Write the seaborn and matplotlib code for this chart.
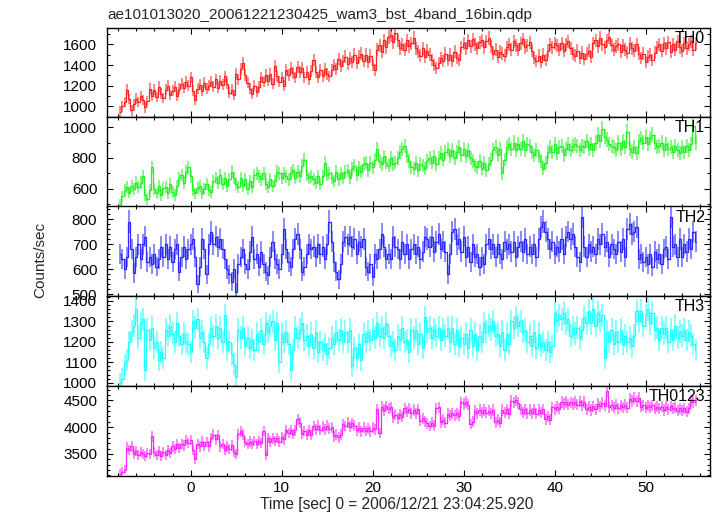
import numpy as np
import pandas as pd
import matplotlib
matplotlib.use("Agg")
import matplotlib.pyplot as plt
import seaborn as sns
from matplotlib.ticker import MultipleLocator

# ---------------- data (0.25 s bins) ----------------
time_start = -7.75
time_step = 0.25

th0 = [
    950, 1000, 1040, 1160, 1070, 960, 1020, 1075, 1040, 1100, 1060, 990, 1050, 1170, 1100, 1160, 1090, 1190, 1120, 1080,
    1160, 1200, 1110, 1150, 1190, 1100, 1170, 1220, 1180, 1240, 1200, 1280, 1150, 1060, 1170, 1210, 1150, 1230, 1170, 1200,
    1240, 1190, 1260, 1180, 1250, 1210, 1290, 1220, 1130, 1160, 1110, 1310, 1260, 1360, 1420, 1300, 1230, 1170, 1120, 1200,
    1140, 1190, 1280, 1240, 1300, 1250, 1310, 1220, 1390, 1290, 1240, 1280, 1200, 1350, 1300, 1370, 1320, 1280, 1380, 1330,
    1370, 1280, 1330, 1260, 1340, 1450, 1330, 1280, 1350, 1290, 1360, 1310, 1290, 1350, 1400, 1360, 1460, 1390, 1440, 1480,
    1410, 1470, 1430, 1500, 1420, 1480, 1510, 1440, 1500, 1430, 1490, 1400, 1350, 1550, 1590, 1530, 1640, 1570, 1670, 1690,
    1620, 1710, 1640, 1560, 1600, 1550, 1640, 1580, 1610, 1660, 1560, 1530, 1490, 1560, 1480, 1540, 1500, 1450, 1400, 1370,
    1420, 1470, 1440, 1510, 1450, 1500, 1440, 1530, 1470, 1450, 1570, 1610, 1560, 1640, 1580, 1650, 1600, 1560, 1620, 1640,
    1570, 1630, 1660, 1580, 1510, 1550, 1480, 1530, 1510, 1490, 1570, 1600, 1550, 1630, 1590, 1550, 1610, 1650, 1570, 1590,
    1620, 1540, 1470, 1440, 1490, 1430, 1500, 1450, 1540, 1600, 1570, 1610, 1590, 1550, 1610, 1540, 1600, 1630, 1560, 1510,
    1490, 1540, 1470, 1520, 1460, 1510, 1540, 1480, 1610, 1640, 1580, 1660, 1600, 1570, 1640, 1670, 1590, 1550, 1580, 1600,
    1530, 1590, 1550, 1520, 1610, 1560, 1540, 1600, 1510, 1470, 1510, 1430, 1480, 1500, 1450, 1520, 1570, 1600, 1540, 1610,
    1560, 1620, 1530, 1600, 1550, 1630, 1570, 1540, 1610, 1560, 1600, 1630, 1550, 1610,
]

th1 = [
    495, 550, 590, 610, 575, 620, 600, 640, 610, 640, 680, 560, 530, 590, 740, 600, 570, 620, 560, 605,
    610, 570, 630, 580, 560, 620, 670, 690, 640, 710, 740, 680, 590, 570, 605, 620, 570, 600, 630, 590,
    580, 650, 670, 640, 690, 630, 670, 620, 660, 710, 670, 630, 610, 670, 620, 660, 600, 650, 610, 690,
    700, 680, 660, 700, 630, 610, 660, 620, 650, 710, 700, 670, 700, 680, 660, 700, 720, 670, 710, 680,
    750, 790, 690, 670, 680, 660, 640, 680, 630, 680, 770, 690, 700, 670, 650, 710, 660, 700, 670, 710,
    720, 670, 730, 750, 690, 740, 710, 760, 770, 720, 770, 740, 790, 860, 780, 760, 810, 770, 750, 800,
    760, 770, 800, 840, 860, 880, 810, 780, 740, 730, 770, 720, 760, 750, 730, 780, 800, 770, 810, 760,
    800, 830, 790, 840, 860, 810, 850, 800, 840, 870, 820, 860, 810, 850, 800, 780, 750, 740, 780, 730,
    770, 720, 760, 790, 850, 870, 820, 860, 700, 790, 870, 890, 860, 900, 850, 890, 860, 910, 850, 890,
    880, 840, 820, 850, 810, 780, 730, 770, 840, 870, 840, 890, 830, 870, 880, 820, 860, 890, 850, 880,
    890, 880, 850, 880, 870, 910, 860, 890, 850, 900, 950, 910, 990, 940, 920, 890, 880, 870, 850, 900,
    860, 910, 870, 970, 860, 840, 870, 830, 910, 930, 900, 940, 890, 930, 950, 900, 870, 880, 900, 850,
    890, 860, 870, 840, 880, 850, 830, 870, 840, 880, 850, 890, 1010, 900,
]

th2 = [
    660, 640, 600, 650, 790, 680, 585, 650, 700, 640, 700, 730, 630, 650, 620, 660, 610, 640, 690, 650,
    700, 640, 690, 630, 680, 700, 590, 650, 690, 640, 680, 700, 720, 650, 540, 610, 720, 680, 580, 700,
    750, 700, 730, 690, 720, 680, 640, 600, 580, 550, 600, 510, 620, 650, 680, 620, 600, 670, 730, 640,
    660, 610, 670, 620, 590, 575, 650, 710, 640, 620, 600, 660, 760, 680, 630, 610, 680, 720, 740, 680,
    590, 610, 660, 700, 680, 690, 650, 700, 660, 690, 640, 700, 790, 710, 630, 590, 560, 620, 710, 730,
    700, 730, 690, 720, 660, 710, 690, 720, 610, 590, 620, 570, 660, 640, 680, 740, 690, 640, 660, 640,
    730, 690, 680, 640, 710, 660, 700, 640, 680, 700, 660, 690, 640, 670, 730, 720, 690, 730, 670, 710,
    740, 680, 710, 670, 580, 660, 750, 760, 700, 720, 670, 730, 650, 690, 630, 700, 650, 660, 610, 650,
    620, 700, 720, 680, 700, 650, 700, 660, 640, 710, 680, 700, 670, 710, 650, 690, 710, 670, 720, 660,
    690, 660, 700, 650, 720, 770, 790, 750, 720, 680, 710, 660, 690, 670, 720, 660, 730, 750, 720, 740,
    690, 650, 630, 810, 690, 650, 700, 670, 690, 660, 720, 700, 740, 690, 710, 650, 700, 680, 660, 710,
    670, 720, 650, 760, 780, 740, 750, 770, 640, 660, 630, 650, 620, 660, 610, 670, 640, 660, 620, 680,
    690, 640, 810, 690, 700, 650, 720, 650, 700, 670, 720, 680, 750, 710,
]

th3 = [
    1000, 1020, 1090, 1110, 1200, 1250, 1280, 1360, 1220, 1290, 1310, 1060, 1260, 1210, 1270, 1170, 1200, 1110, 1150, 1120,
    1260, 1230, 1280, 1240, 1200, 1290, 1230, 1190, 1240, 1200, 1190, 1150, 1300, 1270, 1310, 1220, 1250, 1200, 1120, 1190,
    1270, 1230, 1280, 1220, 1270, 1200, 1330, 1160, 1200, 1140, 1090, 1030, 1260, 1220, 1270, 1180, 1220, 1170, 1210, 1160,
    1240, 1200, 1260, 1190, 1290, 1250, 1280, 1300, 1210, 1290, 1100, 1240, 1200, 1250, 1190, 1060, 1160, 1270, 1220, 1260,
    1290, 1210, 1230, 1180, 1240, 1170, 1250, 1150, 1200, 1160, 1190, 1140, 1170, 1220, 1190, 1250, 1210, 1260, 1200, 1250,
    1200, 1260, 1080, 1170, 1120, 1190, 1110, 1240, 1200, 1250, 1210, 1260, 1220, 1290, 1230, 1270, 1220, 1290, 1230, 1180,
    1200, 1160, 1230, 1210, 1270, 1200, 1210, 1150, 1260, 1220, 1260, 1190, 1240, 1170, 1320, 1250, 1270, 1220, 1260, 1230,
    1270, 1210, 1260, 1230, 1270, 1200, 1270, 1190, 1260, 1180, 1220, 1190, 1240, 1170, 1260, 1180, 1240, 1160, 1230, 1200,
    1290, 1250, 1280, 1260, 1300, 1230, 1240, 1180, 1250, 1160, 1240, 1190, 1300, 1270, 1320, 1280, 1300, 1250, 1260, 1200,
    1230, 1180, 1250, 1170, 1240, 1180, 1200, 1160, 1200, 1150, 1180, 1340, 1300, 1330, 1310, 1340, 1290, 1310, 1230, 1270,
    1240, 1270, 1220, 1260, 1320, 1290, 1350, 1290, 1360, 1280, 1340, 1300, 1330, 1120, 1250, 1200, 1260, 1190, 1250, 1200,
    1260, 1190, 1230, 1200, 1220, 1180, 1230, 1350, 1300, 1350, 1280, 1330, 1360, 1290, 1340, 1260, 1270, 1210, 1270, 1240,
    1270, 1200, 1260, 1210, 1280, 1220, 1250, 1230, 1260, 1210, 1250, 1230, 1190, 1160,
]

th0123 = [
    3130, 3170, 3210, 3620, 3580, 3640, 3500, 3560, 3480, 3540, 3500, 3460, 3520, 3500, 3830, 3540, 3490, 3560, 3470, 3540,
    3490, 3570, 3510, 3640, 3600, 3680, 3610, 3690, 3660, 3760, 3700, 3760, 3570, 3400, 3680, 3640, 3730, 3650, 3720, 3640,
    3800, 3860, 3770, 3850, 3640, 3680, 3580, 3640, 3600, 3660, 3530, 3500, 3870, 3920, 3860, 3720, 3680, 3730, 3680, 3740,
    3690, 3740, 3700, 3930, 3490, 3800, 3730, 3790, 3740, 3800, 3730, 3810, 3770, 3940, 3890, 3950, 3870, 3940, 4150, 4080,
    3870, 3930, 3860, 3940, 3850, 4020, 3960, 4030, 3950, 4010, 3960, 4030, 3970, 4000, 3830, 3860, 3810, 3860, 4060, 4020,
    4080, 4010, 4070, 4030, 3940, 3990, 3920, 3990, 3930, 3980, 3920, 3990, 3960, 4330, 3890, 4380, 4320, 4390, 4340, 4370,
    4180, 4230, 4170, 4240, 4190, 4350, 4290, 4340, 4260, 4320, 4260, 4330, 4120, 4170, 4110, 4070, 4020, 4080, 4030, 4350,
    4370, 4090, 4140, 4080, 4250, 4210, 4260, 4220, 4260, 4210, 4460, 4430, 4470, 4420, 4060, 4100, 4310, 4260, 4320, 4270,
    4320, 4270, 4310, 4260, 4320, 4090, 4140, 4080, 4320, 4270, 4330, 4250, 4490, 4460, 4500, 4450, 4330, 4270, 4330, 4260,
    4320, 4260, 4330, 4250, 4320, 4270, 4330, 4150, 4200, 4140, 4370, 4330, 4380, 4340, 4470, 4430, 4470, 4420, 4460, 4430,
    4470, 4420, 4480, 4410, 4470, 4330, 4380, 4320, 4390, 4330, 4440, 4390, 4450, 4400, 4670, 4370, 4410, 4360, 4420, 4350,
    4410, 4370, 4420, 4360, 4530, 4490, 4540, 4480, 4550, 4380, 4410, 4360, 4400, 4370, 4410, 4340, 4380, 4340, 4380, 4320,
    4380, 4330, 4390, 4340, 4360, 4310, 4350, 4310, 4350, 4290, 4350, 4490, 4470, 4500,
]

panel_names = ["TH0", "TH1", "TH2", "TH3", "TH0123"]
panel_series = [th0, th1, th2, th3, th0123]
panel_colors = ["#ff2626", "#26f026", "#2a2aff", "#26ffff", "#ff26ff"]
panel_ylims = [(900, 1761), (484, 1069), (492, 850), (984, 1423), (3084, 4767)]
panel_major = [200, 200, 100, 100, 500]
panel_minor = [100, 100, 20, 20, 100]
x_label = "Time [sec] 0 = 2006/12/21 23:04:25.920"
y_label = "Counts/sec"
title = "ae101013020_20061221230425_wam3_bst_4band_16bin.qdp"

# ---------------- styling ----------------
sns.set_theme(style="ticks")
plt.rcParams["font.family"] = ["Liberation Sans", "DejaVu Sans"]
plt.rcParams["axes.linewidth"] = 1.0

fig = plt.figure(figsize=(7.17, 5.16), dpi=100)

left, width = 107 / 717, 603 / 717
edges_px = [27.7, 116.7, 206.5, 296.3, 386.0, 476.3]
H = 516.0

for i, (name, vals, col, ylim, maj, mnr) in enumerate(
        zip(panel_names, panel_series, panel_colors, panel_ylims, panel_major, panel_minor)):
    top_px, bot_px = edges_px[i], edges_px[i + 1]
    ax = fig.add_axes([left, 1 - bot_px / H, width, (bot_px - top_px) / H])
    v = np.asarray(vals, dtype=float)
    t = time_start + time_step * np.arange(len(v))
    err = np.sqrt(v / 0.4)
    df = pd.DataFrame({"t": t, "rate": v})
    ax.errorbar(t, v, yerr=err, fmt="none", ecolor=col, elinewidth=1.4,
                alpha=0.55, capsize=0, zorder=2)
    sns.lineplot(data=df, x="t", y="rate", ax=ax, color=col, lw=0.9,
                 drawstyle="steps-mid", errorbar=None, zorder=3)
    ax.set_xlim(-9.2, 57.07)
    ax.set_ylim(*ylim)
    ax.xaxis.set_major_locator(MultipleLocator(10))
    ax.xaxis.set_minor_locator(MultipleLocator(2))
    ax.yaxis.set_major_locator(MultipleLocator(maj))
    ax.yaxis.set_minor_locator(MultipleLocator(mnr))
    ax.tick_params(which="both", direction="in", top=True, right=True,
                   colors="black", labelsize=11, width=0.8)
    ax.tick_params(which="major", length=4)
    ax.tick_params(axis="y", which="major", pad=7)
    ax.tick_params(axis="x", which="major", pad=3.5)
    ax.tick_params(which="minor", length=2)
    ax.set_xlabel("")
    ax.set_ylabel("")
    for s in ax.spines.values():
        s.set_color("black")
    if i < 4:
        ax.tick_params(labelbottom=False)
    ax.text(0.992, 0.965, name, transform=ax.transAxes, ha="right", va="top",
            fontsize=11.5, color="black", zorder=5)

fig.text(107.3 / 717, 1 - 19 / H, title, ha="left", va="baseline", fontsize=11)
fig.text(260 / 717, 1 - 509 / H, x_label, ha="left", va="baseline", fontsize=11.2)
fig.text(40.7 / 717, 1 - 260 / H, y_label, rotation=90, ha="center", va="center", fontsize=11)

fig.savefig("out.png", dpi=100)
